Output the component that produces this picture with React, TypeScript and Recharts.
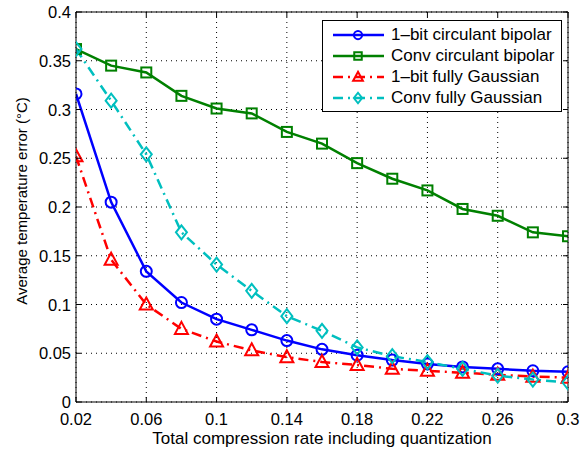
import React from 'react';
import { LineChart, Line, XAxis, YAxis, CartesianGrid, Legend } from 'recharts';

const rates = [0.02, 0.04, 0.06, 0.08, 0.1, 0.12, 0.14, 0.16, 0.18, 0.2, 0.22, 0.24, 0.26, 0.28, 0.3];
const oneBitCirc = [0.316, 0.205, 0.134, 0.102, 0.085, 0.074, 0.063, 0.054, 0.048, 0.043, 0.039, 0.036, 0.034, 0.032, 0.031];
const convCirc = [0.362, 0.345, 0.338, 0.314, 0.301, 0.296, 0.277, 0.265, 0.245, 0.229, 0.217, 0.198, 0.191, 0.174, 0.170];
const oneBitGauss = [0.252, 0.146, 0.100, 0.075, 0.062, 0.053, 0.046, 0.041, 0.038, 0.034, 0.032, 0.030, 0.028, 0.026, 0.025];
const convGauss = [0.362, 0.309, 0.254, 0.174, 0.141, 0.114, 0.088, 0.073, 0.056, 0.047, 0.041, 0.034, 0.027, 0.023, 0.020];
const xTicks = [0.02, 0.06, 0.1, 0.14, 0.18, 0.22, 0.26, 0.3];
const yTicks = [0, 0.05, 0.1, 0.15, 0.2, 0.25, 0.3, 0.35, 0.4];

const seriesNames = ['1\u2013bit circulant bipolar', 'Conv circulant bipolar', '1\u2013bit fully Gaussian', 'Conv fully Gaussian'];

const data = rates.map((x, i) => ({
  x,
  a: oneBitCirc[i],
  b: convCirc[i],
  c: oneBitGauss[i],
  d: convGauss[i],
}));

const FONT = '"Liberation Sans", Arial, sans-serif';
const W = 581;
const H = 455;
const PLOT_TOP = 12;
const PLOT_BOTTOM = 402;
const PLOT_LEFT = 76;
const PLOT_RIGHT = 568;

type Shape = 'circle' | 'square' | 'triangle' | 'diamond';

const Marker = ({ cx, cy, shape, color, s = 1 }: { cx: number; cy: number; shape: Shape; color: string; s?: number }) => {
  const sw = 2;
  if (shape === 'circle') return <circle cx={cx} cy={cy} r={5.5 * s} fill="none" stroke={color} strokeWidth={sw} />;
  if (shape === 'square')
    return <rect x={cx - 5 * s} y={cy - 5 * s} width={10 * s} height={10 * s} fill="none" stroke={color} strokeWidth={sw} />;
  if (shape === 'triangle')
    return (
      <polygon
        points={`${cx},${cy - 7 * s} ${cx + 6.5 * s},${cy + 5 * s} ${cx - 6.5 * s},${cy + 5 * s}`}
        fill="none"
        stroke={color}
        strokeWidth={sw}
      />
    );
  return (
    <polygon
      points={`${cx},${cy - 7 * s} ${cx + 5.5 * s},${cy} ${cx},${cy + 7 * s} ${cx - 5.5 * s},${cy}`}
      fill="none"
      stroke={color}
      strokeWidth={sw}
    />
  );
};

const mkDot = (shape: Shape, color: string) => (props: any) => {
  const { cx, cy, index } = props;
  if (cx == null || cy == null) return <g key={index} />;
  return <Marker key={index} cx={cx} cy={cy} shape={shape} color={color} />;
};

const series = [
  { key: 'a', color: '#0000ff', shape: 'circle' as Shape, dash: undefined as string | undefined },
  { key: 'b', color: '#008000', shape: 'square' as Shape, dash: undefined as string | undefined },
  { key: 'c', color: '#ff0000', shape: 'triangle' as Shape, dash: '10 5 2 5' },
  { key: 'd', color: '#00bfbf', shape: 'diamond' as Shape, dash: '10 5 2 5' },
];

const fmt = (v: number) => String(Math.round(v * 1000) / 1000);

const XTick = (props: any) => {
  const { x, y, payload } = props;
  return (
    <g>
      <line x1={x} y1={PLOT_BOTTOM} x2={x} y2={PLOT_BOTTOM - 5} stroke="#000" />
      <line x1={x} y1={PLOT_TOP} x2={x} y2={PLOT_TOP + 5} stroke="#000" />
      <text x={x} y={y + 23} textAnchor="middle" fontFamily={FONT} fontSize={16.5} fill="#000">
        {fmt(payload.value)}
      </text>
    </g>
  );
};

const YTick = (props: any) => {
  const { x, y, payload } = props;
  return (
    <g>
      <line x1={PLOT_LEFT} y1={y} x2={PLOT_LEFT + 5} y2={y} stroke="#000" />
      <line x1={PLOT_RIGHT} y1={y} x2={PLOT_RIGHT - 5} y2={y} stroke="#000" />
      <text x={x - 5} y={y + 6} textAnchor="end" fontFamily={FONT} fontSize={16.5} fill="#000">
        {fmt(payload.value)}
      </text>
    </g>
  );
};

const LegendBox = () => (
  <div
    style={{
      width: 240,
      height: 92,
      boxSizing: 'border-box',
      border: '1px solid #000',
      background: '#fff',
      paddingTop: 3,
      fontFamily: FONT,
      fontSize: 17,
      color: '#000',
    }}
  >
    {series.map((s, i) => (
      <div key={s.key} style={{ display: 'flex', alignItems: 'center', height: 21 }}>
        <svg width={68} height={20} style={{ display: 'block', flex: 'none' }}>
          <line x1={10} y1={10} x2={61} y2={10} stroke={s.color} strokeWidth={2.5} strokeDasharray={s.dash} />
          <Marker cx={35} cy={10} shape={s.shape} color={s.color} s={0.75} />
        </svg>
        <span style={{ whiteSpace: 'nowrap' }}>{seriesNames[i]}</span>
      </div>
    ))}
  </div>
);

export default function App() {
  return (
    <div style={{ position: 'fixed', left: 0, top: 0, width: W, height: H, overflow: 'hidden', background: '#fff' }}>
      <LineChart width={W} height={H} data={data} margin={{ top: 0, right: 0, bottom: 0, left: 0 }}>
        <CartesianGrid stroke="#000" strokeDasharray="1 4" strokeWidth={1} />
        <XAxis
          dataKey="x"
          type="number"
          domain={[0.02, 0.3]}
          ticks={xTicks}
          height={H - PLOT_BOTTOM}
          tickSize={0}
          tickMargin={0}
          tick={<XTick />}
          axisLine={{ stroke: '#000' }}
          tickLine={false}
          allowDataOverflow
          interval={0}
          label={() => (
            <text x={(PLOT_LEFT + PLOT_RIGHT) / 2} y={444} textAnchor="middle" fontFamily={FONT} fontSize={17} fill="#000">
              Total compression rate including quantization
            </text>
          )}
        />
        <XAxis
          xAxisId="t"
          orientation="top"
          type="number"
          domain={[0.02, 0.3]}
          height={PLOT_TOP}
          tick={false}
          tickLine={false}
          axisLine={{ stroke: '#000' }}
        />
        <YAxis
          type="number"
          domain={[0, 0.4]}
          ticks={yTicks}
          width={PLOT_LEFT}
          tickSize={0}
          tickMargin={0}
          tick={<YTick />}
          axisLine={{ stroke: '#000' }}
          tickLine={false}
          interval={0}
          allowDataOverflow
          label={() => (
            <text
              x={27}
              y={201}
              transform="rotate(-90 27 201)"
              textAnchor="middle"
              fontFamily={FONT}
              fontSize={15}
              fill="#000"
            >
              Average temperature error (°C)
            </text>
          )}
        />
        <YAxis
          yAxisId="r"
          orientation="right"
          type="number"
          domain={[0, 0.4]}
          width={W - PLOT_RIGHT}
          tick={false}
          tickLine={false}
          axisLine={{ stroke: '#000' }}
        />
        {series.map((s, i) => (
          <Line
            key={s.key}
            dataKey={s.key}
            name={seriesNames[i]}
            type="linear"
            stroke={s.color}
            strokeWidth={2.5}
            strokeDasharray={s.dash}
            dot={mkDot(s.shape, s.color)}
            activeDot={false}
            isAnimationActive={false}
          />
        ))}
        <Legend
          layout="vertical"
          align="center"
          verticalAlign="middle"
          content={<LegendBox />}
          wrapperStyle={{ position: 'absolute', top: 20, left: 322, width: 240, height: 92 }}
        />
      </LineChart>
    </div>
  );
}
